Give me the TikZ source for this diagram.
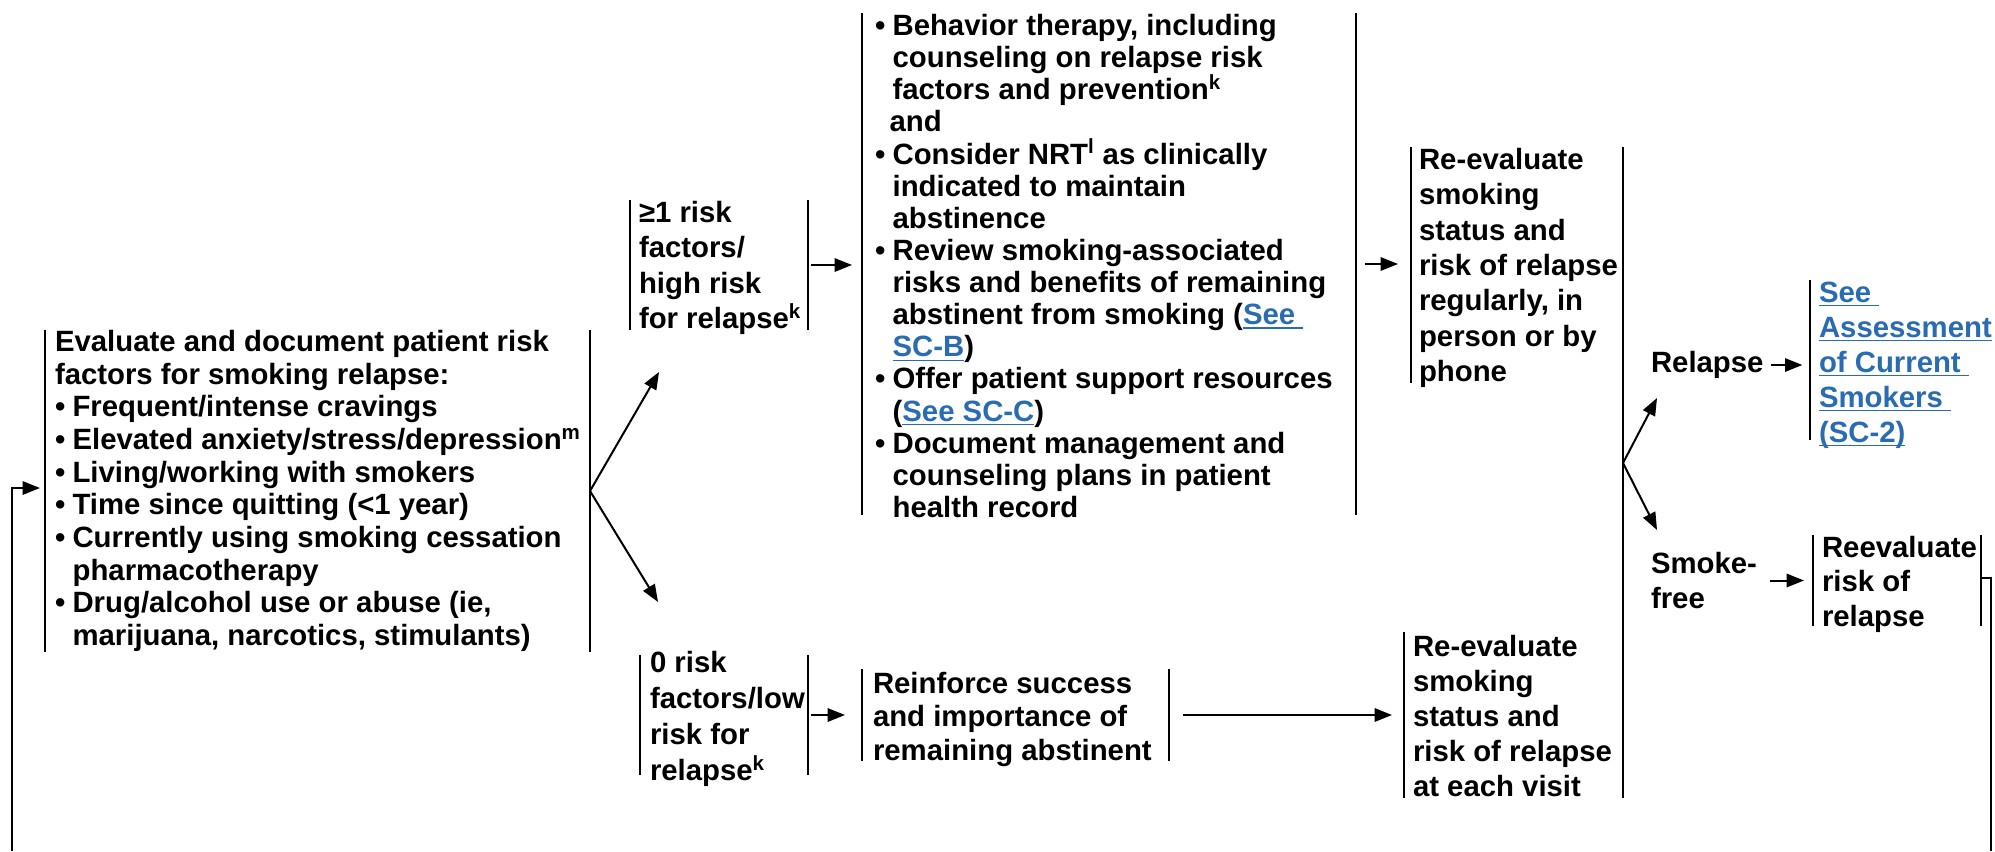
\documentclass[tikz,border=0pt]{standalone}
\usepackage{fontspec}
\setmainfont{Liberation Sans}
\usetikzlibrary{arrows.meta,fit,calc}
\definecolor{linkblue}{RGB}{41,108,178}
\newcommand\lk[1]{{\color{linkblue}\setbox0\hbox{#1}\rlap{\rule[-3.2pt]{\wd0}{1.1pt}}\box0}}
\newcommand\bul{\makebox[0.6em][l]{•}}
\newcommand\hind{\hspace*{0.6em}}
\tikzset{
  x=0.75pt, y=-0.75pt,
  bar/.style={line width=1.5pt},
  arr/.style={line width=1.5pt, -{Triangle[length=13pt,width=10pt]}},
  fr/.style={inner sep=0pt, outer sep=0pt, draw=none},
  txt/.style={inner sep=0pt, outer sep=0pt, align=left, anchor=west,
              font=\fontsize{22}{#1}\selectfont\bfseries},
}
\newcommand\bars[1]{\draw[bar] (#1.north west) -- (#1.south west) (#1.north east) -- (#1.south east);}
\begin{document}
\begin{tikzpicture}
\fill[white] (0,0) rectangle (1995,851);
\useasboundingbox (0,0) rectangle (1995,851);

% frames
\node[fr, fit={(45,330) (590,652)}] (ev) {};
\node[fr, fit={(630,200) (808,330)}] (hi) {};
\node[fr, fit={(862,13) (1356,515)}] (bt) {};
\node[fr, fit={(1411,147) (1623,383)}] (rt) {};
\node[fr, fit={(1404,632) (1623,798)}] (rb) {};
\node[fr, fit={(640,655) (808,775)}] (lo) {};
\node[fr, fit={(862,669) (1169,761)}] (rf) {};
\node[fr, fit={(1811,280) (1811,440)}] (lk) {};
\node[fr, fit={(1813,535) (1981,626)}] (rv) {};

\bars{ev}\bars{hi}\bars{bt}\bars{lo}\bars{rf}\bars{rv}
\draw[bar] (rt.north west) -- (rt.south west);
\draw[bar] (rb.north west) -- (rb.south west);
\draw[bar] (rt.north east) -- (rb.south east);
\draw[bar] (lk.north west) -- (lk.south west);

% texts
\node[txt=24.5pt] (evt) at (55,491) {Evaluate and document patient risk\\
factors for smoking relapse:\\
\bul Frequent/intense cravings\\
\bul Elevated anxiety/stress/depression\textsuperscript{m}\\
\bul Living/working with smokers\\
\bul Time since quitting (<1 year)\\
\bul Currently using smoking cessation\\
\hind pharmacotherapy\\
\bul Drug/alcohol use or abuse (ie,\\
\hind marijuana, narcotics, stimulants)};

\node[txt=26.5pt] (hit) at (639,268) {≥1 risk\\ factors/\\ high risk\\ for relapse\textsuperscript{k}};

\node[txt=24.1pt] (btt) at (875,266) {\bul Behavior therapy, including\\
\hind counseling on relapse risk\\
\hind factors and prevention\textsuperscript{k}\\
\hspace*{0.5em}and\\
\bul Consider NRT\textsuperscript{l} as clinically\\
\hind indicated to maintain\\
\hind abstinence\\
\bul Review smoking-associated\\
\hind risks and benefits of remaining\\
\hind abstinent from smoking (\lk{See\ }\\
\hind \lk{SC-B})\\
\bul Offer patient support resources\\
\hind (\lk{See SC-C})\\
\bul Document management and\\
\hind counseling plans in patient\\
\hind health record};

\node[txt=26.5pt] (rtt) at (1419,268) {Re-evaluate\\ smoking\\ status and\\ risk of relapse\\ regularly, in\\ person or by\\ phone};

\node[txt=26.25pt] (rbt) at (1413,716) {Re-evaluate\\ smoking\\ status and\\ risk of relapse\\ at each visit};

\node[txt=26.8pt] (lot) at (650,719) {0 risk\\ factors/low\\ risk for\\ relapse\textsuperscript{k}};

\node[txt=25.1pt] (rft) at (873,719) {Reinforce success\\ and importance of\\ remaining abstinent};

\node[txt=26.25pt] (lkt) at (1819,365) {\lk{See\ }\\ \lk{Assessment}\\ \lk{of Current\ }\\ \lk{Smokers\ }\\ \lk{(SC-2)}};

\node[txt=25.9pt] (rvt) at (1822,584) {Reevaluate\\ risk of\\ relapse};

\node[txt=26.25pt] (rl) at (1651,365) {Relapse};
\node[txt=26.25pt] (sf) at (1651,580.5) {Smoke-\\ free};

% connectors
\coordinate (u1) at (659,372);
\coordinate (d1) at (658,602);
\draw[arr] (ev.east) -- (u1);
\draw[arr] (ev.east) -- (d1);

\draw[arr, shorten <=2.25pt, shorten >=7.5pt] (hi.east) -- (hi.east -| bt.west);
\draw[arr, shorten <=6.75pt, shorten >=9.75pt] (bt.east) -- (bt.east -| rt.west);
\draw[arr, shorten <=2.25pt, shorten >=12.75pt] (lo.east) -- (lo.east -| rf.west);
\draw[arr, shorten <=10.5pt, shorten >=9pt] (rf.east) -- (rf.east -| rb.west);

\coordinate (f2) at (1623,463);
\coordinate (u2) at (1657,398);
\coordinate (d2) at (1657,530);
\draw[arr] (f2) -- (u2);
\draw[arr] (f2) -- (d2);

\draw[arr, shorten <=5.25pt, shorten >=6pt] (rl.east) -- (rl.east -| lk.west);
\draw[arr, shorten <=9.75pt, shorten >=6.75pt] (sf.east) -- (sf.east -| rv.west);

\coordinate (lb) at (12,851);
\draw[arr, shorten >=3.75pt] (lb) |- ($(ev.west)+(0,-3)$);

\coordinate (rbk) at (1991,851);
\draw[bar] ($(rv.east)+(0,-3)$) -| (rbk);
\end{tikzpicture}
\end{document}
